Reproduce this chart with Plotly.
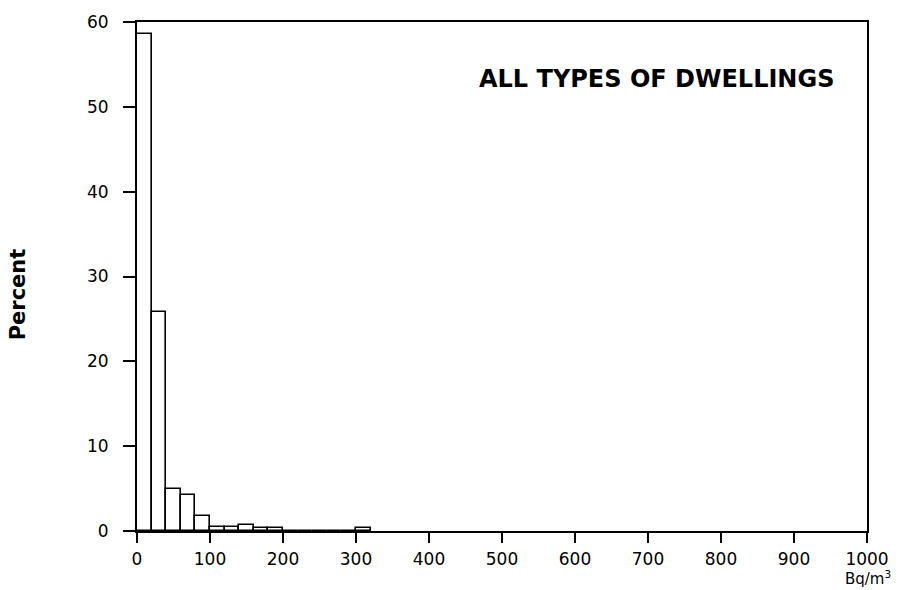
import plotly.graph_objects as go

# Radon concentration histogram, 20 Bq/m3 classes
bin_left = [0, 20, 40, 60, 80, 100, 120, 140, 160, 180,
            200, 220, 240, 260, 280, 300]
percent = [58.6, 25.8, 5.0, 4.2, 1.75, 0.5, 0.5, 0.7, 0.3, 0.3,
           0.05, 0.05, 0.05, 0.05, 0.05, 0.3]
bin_width = 20

x_ticks = [0, 100, 200, 300, 400, 500, 600, 700, 800, 900, 1000]
y_ticks = [0, 10, 20, 30, 40, 50, 60]

tick_font = dict(family="DejaVu Sans", size=17, color="black")

fig = go.Figure(go.Bar(
    x=[b + bin_width / 2 for b in bin_left],
    y=percent,
    width=bin_width,
    marker=dict(color="white", line=dict(color="black", width=1.6)),
))

fig.update_layout(
    width=901, height=590,
    margin=dict(l=137, r=34, t=19, b=59),
    plot_bgcolor="white", paper_bgcolor="white",
    showlegend=False,
    bargap=0,
    xaxis=dict(
        range=[0, 1000], tickvals=x_ticks, ticktext=[str(v) for v in x_ticks],
        showgrid=False, zeroline=False,
        showline=True, linecolor="black", linewidth=2, mirror=True,
        ticks="outside", ticklen=10, tickwidth=2, tickcolor="black",
        ticklabelstandoff=2, tickfont=tick_font,
    ),
    yaxis=dict(
        range=[0, 60], tickvals=y_ticks, ticktext=[str(v) for v in y_ticks],
        showgrid=False, zeroline=False,
        showline=True, linecolor="black", linewidth=2, mirror=True,
        ticks="outside", ticklen=12, tickwidth=2, tickcolor="black",
        ticklabelstandoff=11, tickfont=tick_font,
    ),
    annotations=[
        dict(text="<b>ALL TYPES OF DWELLINGS</b>", xref="paper", yref="paper",
             x=0.957, y=0.888, xanchor="right", yanchor="middle", showarrow=False,
             font=dict(family="DejaVu Sans", size=24, color="black")),
        dict(text="<b>Percent</b>", xref="paper", yref="paper",
             x=-0.163, y=0.465, xanchor="center", yanchor="middle", showarrow=False,
             textangle=-90,
             font=dict(family="DejaVu Sans", size=21, color="black")),
        dict(text="Bq/m<sup>3</sup>", xref="paper", yref="paper",
             x=1.002, y=-0.093, xanchor="center", yanchor="middle", showarrow=False,
             font=dict(family="DejaVu Sans", size=15, color="black")),
    ],
)

fig.write_html("out.html")
